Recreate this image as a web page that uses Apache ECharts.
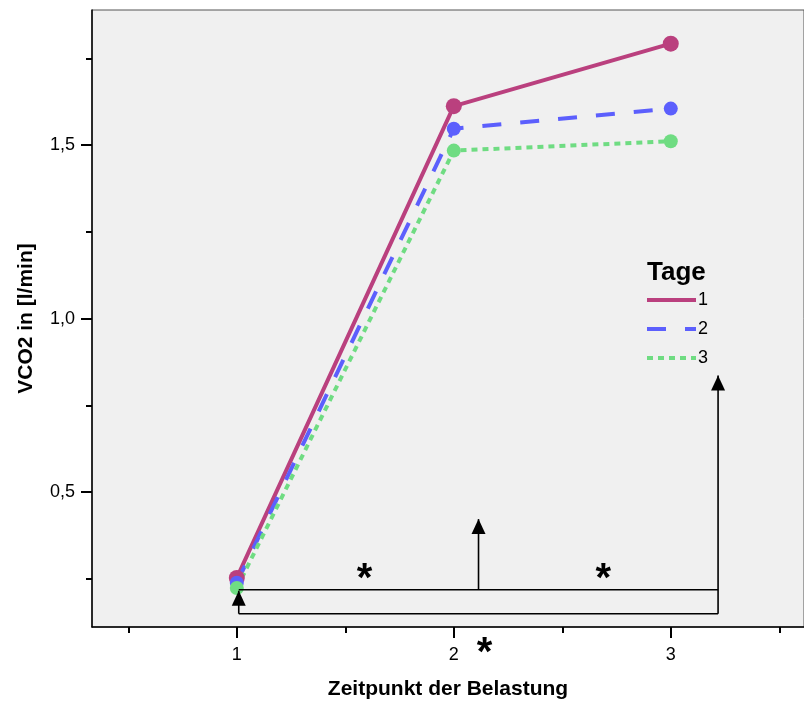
<!DOCTYPE html>
<html>
<head>
<meta charset="utf-8">
<script src="https://cdn.jsdelivr.net/npm/echarts@6/dist/echarts.min.js"></script>
<style>
  html, body { margin: 0; padding: 0; background: #ffffff; }
  #chart { width: 804px; height: 705px; }
</style>
</head>
<body>
<div id="chart"></div>
<script>
// Messzeitpunkte (x) und mittlere VCO2-Werte je Tag
const zeitpunkte = [1, 2, 3];
const tag1 = [0.253, 1.612, 1.792];
const tag2 = [0.239, 1.547, 1.605];
const tag3 = [0.224, 1.484, 1.511];
const tagNamen = ['1', '2', '3'];

// Achsen-Teilstriche und Beschriftungen
const xMajorTicks = [1, 2, 3];
const xMinorTicks = [0.5, 1.5, 2.5, 3.5];
const yMajorTicks = [0.5, 1.0, 1.5];
const yMinorTicks = [0.25, 0.75, 1.25, 1.75];

// Signifikanz-Klammern (Datenkoordinaten)
const klammerOben = 0.219;
const klammerUnten = 0.150;
const klammerX = [1.009, 2.114, 3.218];
const pfeilSpitzen = [0.216, 0.4225, 0.836];
const sterne = [[1.589, 0.246], [2.689, 0.246], [2.142, 0.033]];

const FONT = '"Liberation Sans", Arial, sans-serif';
const farben = ['#ba407e', '#5c5ffd', '#6fdc82'];
const linienTyp = ['solid', [19, 19], [6, 5]];

const X_MIN = 0.3327, X_MAX = 3.614;
const Y_MIN = 0.1117, Y_MAX = 1.889;

const chart = echarts.init(document.getElementById('chart'), null, { renderer: 'canvas' });

const pairs = arr => zeitpunkte.map((x, i) => [x, arr[i]]);
const werte = [tag1, tag2, tag3];

const baseAxisLine = { show: true, onZero: false, lineStyle: { color: '#000', width: 1.5 } };

const option = {
  animation: false,
  backgroundColor: '#ffffff',
  textStyle: { fontFamily: FONT },
  title: {
    text: 'Tage',
    left: 647, top: 260, padding: 0,
    textStyle: { fontFamily: FONT, fontSize: 26, fontWeight: 'bold', color: '#000' }
  },
  legend: {
    orient: 'vertical',
    left: 645, top: 291, padding: 0,
    itemWidth: 49, itemHeight: 1, itemGap: 11,
    itemStyle: { opacity: 0 },
    lineStyle: { width: 4 },
    textStyle: { fontFamily: FONT, fontSize: 18, color: '#000', padding: [0, 0, 0, -3] },
    data: tagNamen
  },
  grid: {
    left: 92, top: 10, width: 713, height: 619,
    show: true, backgroundColor: '#f0f0f0', borderColor: '#555', borderWidth: 1
  },
  xAxis: [
    {
      type: 'value', min: X_MIN, max: X_MAX,
      axisLine: baseAxisLine,
      axisTick: { show: true, customValues: xMajorTicks, length: 11, lineStyle: { color: '#000', width: 2 } },
      axisLabel: { show: true, customValues: xMajorTicks, margin: 19, fontSize: 18, color: '#000', fontFamily: FONT },
      splitLine: { show: false },
      name: 'Zeitpunkt der Belastung', nameLocation: 'middle', nameGap: 52,
      nameTextStyle: { fontFamily: FONT, fontSize: 21, fontWeight: 'bold', color: '#000' }
    },
    {
      type: 'value', min: X_MIN, max: X_MAX, position: 'bottom',
      axisLine: { show: false },
      axisTick: { show: true, customValues: xMinorTicks, length: 6, lineStyle: { color: '#000', width: 2 } },
      axisLabel: { show: false },
      splitLine: { show: false }
    }
  ],
  yAxis: [
    {
      type: 'value', min: Y_MIN, max: Y_MAX,
      axisLine: baseAxisLine,
      axisTick: { show: true, customValues: yMajorTicks, length: 11, lineStyle: { color: '#000', width: 2 } },
      axisLabel: {
        show: true, customValues: yMajorTicks, margin: 17, fontSize: 18, color: '#000', fontFamily: FONT,
        formatter: v => v.toFixed(1).replace('.', ',')
      },
      splitLine: { show: false },
      name: 'VCO2 in [l/min]', nameLocation: 'middle', nameGap: 55,
      nameTextStyle: { fontFamily: FONT, fontSize: 21, fontWeight: 'bold', color: '#000' }
    },
    {
      type: 'value', min: Y_MIN, max: Y_MAX, position: 'left',
      axisLine: { show: false },
      axisTick: { show: true, customValues: yMinorTicks, length: 6, lineStyle: { color: '#000', width: 2 } },
      axisLabel: { show: false },
      splitLine: { show: false }
    }
  ],
  series: werte.map((arr, i) => ({
    name: tagNamen[i],
    type: 'line',
    xAxisIndex: 0, yAxisIndex: 0,
    data: pairs(arr),
    symbol: 'circle',
    symbolSize: i === 0 ? 16 : 14,
    itemStyle: { color: farben[i] },
    lineStyle: { color: farben[i], width: 4, type: linienTyp[i] },
    emphasis: { disabled: true }
  }))
};

chart.setOption(option);

// Klammern, Pfeile und Sterne in Pixel umrechnen
const px = (x, y) => chart.convertToPixel({ xAxisIndex: 0, yAxisIndex: 0 }, [x, y]);
const graphics = [];
const ls = { stroke: '#000', lineWidth: 1.6, fill: null };
const addLine = (a, b) => graphics.push({ type: 'line', shape: { x1: a[0], y1: a[1], x2: b[0], y2: b[1] }, style: ls, z: 50 });
const addArrow = (x, yTip) => {
  const p = px(x, yTip);
  graphics.push({
    type: 'polygon',
    shape: { points: [[p[0], p[1]], [p[0] - 7, p[1] + 15], [p[0] + 7, p[1] + 15]] },
    style: { fill: '#000' }, z: 51
  });
};

// obere und untere Querlinie
addLine(px(klammerX[0], klammerOben), px(klammerX[2], klammerOben));
addLine(px(klammerX[0], klammerUnten), px(klammerX[2], klammerUnten));
// linke senkrechte Linie bis zum Pfeil
addLine(px(klammerX[0], klammerUnten), px(klammerX[0], pfeilSpitzen[0]));
// mittlere senkrechte Linie
addLine(px(klammerX[1], klammerOben), px(klammerX[1], pfeilSpitzen[1]));
// rechte senkrechte Linie
addLine(px(klammerX[2], klammerUnten), px(klammerX[2], pfeilSpitzen[2]));
klammerX.forEach((x, i) => addArrow(x, pfeilSpitzen[i]));

sterne.forEach(s => {
  const p = px(s[0], s[1]);
  graphics.push({
    type: 'text', x: p[0], y: p[1], z: 52,
    style: { text: '*', fontFamily: FONT, fontSize: 40, fontWeight: 'bold', fill: '#000', align: 'center', verticalAlign: 'middle' }
  });
});

chart.setOption({ graphic: graphics });
</script>
</body>
</html>
